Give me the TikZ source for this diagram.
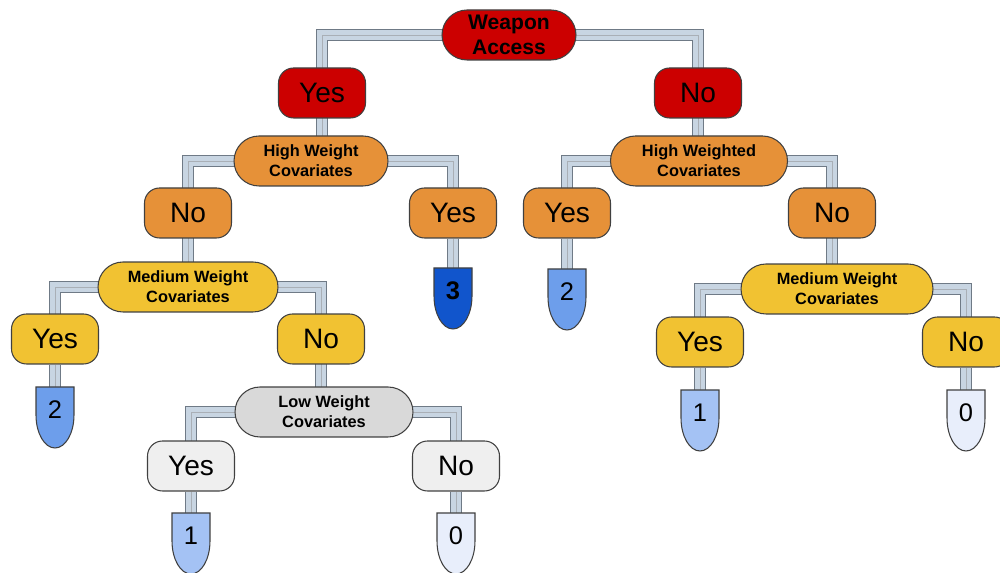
\documentclass[tikz,border=0pt]{standalone}
\usepackage{fontspec}
\setmainfont{Liberation Sans}
\usetikzlibrary{backgrounds}
\definecolor{wred}{HTML}{CC0000}
\definecolor{worange}{HTML}{E69138}
\definecolor{wyellow}{HTML}{F1C232}
\definecolor{wgray}{HTML}{D9D9D9}
\definecolor{wlight}{HTML}{EFEFEF}
\definecolor{pipefill}{HTML}{C8D5E2}
\definecolor{pipeedge}{HTML}{6F7A86}
\definecolor{scoreA}{HTML}{1155CC}
\definecolor{scoreB}{HTML}{6D9EEB}
\definecolor{scoreC}{HTML}{A4C2F4}
\definecolor{scoreD}{HTML}{E8EEFB}
% score leaf: name, position, colour, label
\newcommand{\scoreleaf}[4]{%
  \filldraw[shift={(#2)}, fill=#3, draw=black!75, line width=0.6pt]
    (-19,-23) -- (-19,5) arc[start angle=180, end angle=360, x radius=0.38cm, y radius=0.66cm]
    -- (19,-23) -- cycle;
  \node[lf] (#1) at (#2) {#4};}
\begin{document}
\begin{tikzpicture}[x=0.02cm, y=-0.02cm]
  \tikzstyle{quest}=[draw=black!75, line width=0.6pt, rounded corners=0.5cm, minimum height=1cm,
    inner sep=2pt, align=center, font=\bfseries\fontsize{9.3}{11.3}\selectfont]
  \tikzstyle{ans}=[draw=black!75, line width=0.6pt, rounded corners=0.3cm, minimum width=1.74cm,
    minimum height=1cm, font=\fontsize{16}{18}\selectfont]
  \tikzstyle{lf}=[inner sep=0pt, font=\fontsize{14.5}{16}\selectfont]
  \tikzstyle{pipe}=[draw=pipeedge, line width=7pt, postaction={draw=pipefill, line width=5.6pt},
    postaction={draw=pipeedge!60, line width=0.4pt}]
  \useasboundingbox (0,0) rectangle (1000,573);
  % root
  \node[quest, fill=wred, minimum width=2.68cm, font=\bfseries\fontsize{12}{14.5}\selectfont] (wa) at (509,35) {Weapon\\Access};
  \node[ans, fill=wred] (y) at (322,93) {Yes}; \node[ans, fill=wred] (n) at (698,93) {No};
  % high weight
  \node[quest, fill=worange, minimum width=3.08cm] (hw) at (311,161) {High Weight\\Covariates};
  \node[quest, fill=worange, minimum width=3.54cm] (hwd) at (699,161) {High Weighted\\Covariates};
  \node[ans, fill=worange] (yn) at (188,213) {No}; \node[ans, fill=worange] (yy) at (453,213) {Yes};
  \node[ans, fill=worange] (ny) at (567,213) {Yes}; \node[ans, fill=worange] (nn) at (832,213) {No};
  % medium weight
  \node[quest, fill=wyellow, minimum width=3.6cm] (mwl) at (188,287) {Medium Weight\\Covariates};
  \node[quest, fill=wyellow, minimum width=3.84cm] (mwr) at (837,289) {Medium Weight\\Covariates};
  \node[ans, fill=wyellow] (yny) at (55,339) {Yes}; \node[ans, fill=wyellow] (ynn) at (321,339) {No};
  \node[ans, fill=wyellow] (nny) at (700,342) {Yes}; \node[ans, fill=wyellow] (nnn) at (966,342) {No};
  % low weight
  \node[quest, fill=wgray, minimum width=3.56cm] (lw) at (324,412) {Low Weight\\Covariates};
  \node[ans, fill=wlight] (ynny) at (191,466) {Yes}; \node[ans, fill=wlight] (ynnn) at (456,466) {No};
  % scores
  \scoreleaf{s3}{453,291}{scoreA}{\bfseries 3}
  \scoreleaf{s2r}{567,292}{scoreB}{2}
  \scoreleaf{s2l}{55,410}{scoreB}{2}
  \scoreleaf{s1l}{191,536}{scoreC}{1}
  \scoreleaf{s0l}{456,536}{scoreD}{0}
  \scoreleaf{s1r}{700,413}{scoreC}{1}
  \scoreleaf{s0r}{966,413}{scoreD}{0}
  \begin{pgfonlayer}{background}
    \draw[pipe] (wa.center) -| (y.center); \draw[pipe] (wa.center) -| (n.center);
    \draw[pipe] (y.center) -- (y.center |- hw.center); \draw[pipe] (n.center) -- (n.center |- hwd.center);
    \draw[pipe] (hw.center) -| (yn.center); \draw[pipe] (hw.center) -| (yy.center);
    \draw[pipe] (hwd.center) -| (ny.center); \draw[pipe] (hwd.center) -| (nn.center);
    \draw[pipe] (yy) -- (s3); \draw[pipe] (ny) -- (s2r);
    \draw[pipe] (yn.center) -- (mwl.center); \draw[pipe] (nn.center) -- (nn.center |- mwr.center);
    \draw[pipe] (mwl.center) -| (yny.center); \draw[pipe] (mwl.center) -| (ynn.center);
    \draw[pipe] (mwr.center) -| (nny.center); \draw[pipe] (mwr.center) -| (nnn.center);
    \draw[pipe] (yny) -- (s2l); \draw[pipe] (ynn.center) -- (ynn.center |- lw.center);
    \draw[pipe] (nny) -- (s1r); \draw[pipe] (nnn) -- (s0r);
    \draw[pipe] (lw.center) -| (ynny.center); \draw[pipe] (lw.center) -| (ynnn.center);
    \draw[pipe] (ynny) -- (s1l); \draw[pipe] (ynnn) -- (s0l);
  \end{pgfonlayer}
\end{tikzpicture}
\end{document}
